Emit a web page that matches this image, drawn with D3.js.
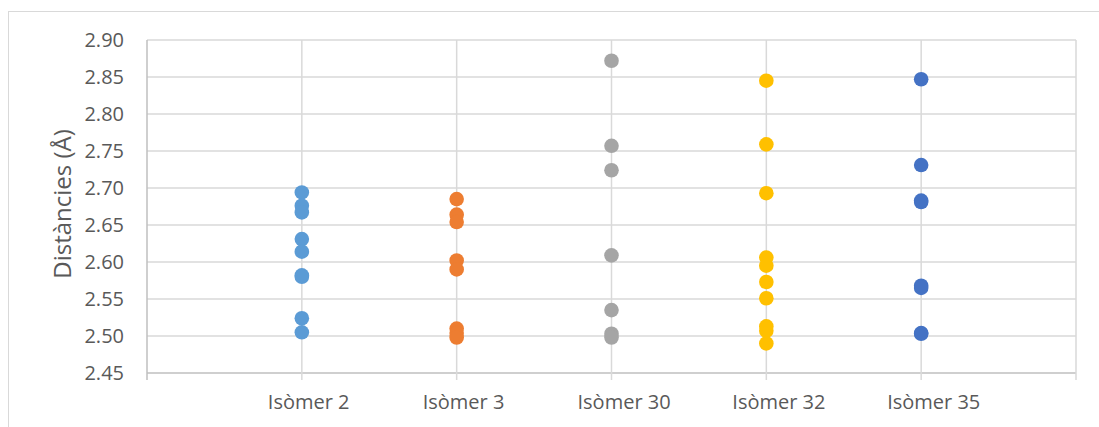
<!DOCTYPE html>
<html><head><meta charset="utf-8">
<script src="https://cdn.jsdelivr.net/npm/d3@7"></script>
<style>body{margin:0;background:#fff}svg{display:block}</style>
</head><body><svg id="c" width="1099" height="427"></svg>
<script>
const categories = ["Isòmer 2","Isòmer 3","Isòmer 30","Isòmer 32","Isòmer 35"];
const colors = ["#5B9BD5","#ED7D31","#A5A5A5","#FFC000","#4472C4"];
const isomer2 = [2.694,2.676,2.667,2.631,2.614,2.582,2.580,2.524,2.505];
const isomer3 = [2.685,2.664,2.654,2.602,2.590,2.510,2.504,2.498];
const isomer30 = [2.872,2.757,2.724,2.609,2.535,2.503,2.498];
const isomer32 = [2.845,2.759,2.693,2.606,2.595,2.573,2.551,2.513,2.507,2.490];
const isomer35 = [2.847,2.731,2.683,2.681,2.568,2.565,2.504,2.503];
const series = [isomer2,isomer3,isomer30,isomer32,isomer35];
const yTicks = [2.45,2.50,2.55,2.60,2.65,2.70,2.75,2.80,2.85,2.90];

const svg = d3.select("#c");
const L=147,R=1076,T=40,B=373;
const x = d3.scaleLinear().domain([0,6]).range([L,R]);
const y = d3.scaleLinear().domain([2.45,2.90]).range([B,T]);
const FONT = "'Open Sans',sans-serif";

svg.append("rect").attr("x",8.5).attr("y",11.5).attr("width",1100).attr("height",430)
  .attr("fill","#fff").attr("stroke","#D9D9D9").attr("stroke-width",1);

// horizontal gridlines
svg.append("g").selectAll("line").data(yTicks).join("line")
  .attr("x1",L).attr("x2",R).attr("y1",d=>y(d)).attr("y2",d=>y(d))
  .attr("stroke",d=>d===2.45?"#BFBFBF":"#D9D9D9").attr("stroke-width",1.5);
// vertical gridlines
svg.append("g").selectAll("line").data(d3.range(0,7)).join("line")
  .attr("x1",d=>x(d)).attr("x2",d=>x(d)).attr("y1",T).attr("y2",B+7)
  .attr("stroke",d=>d===0?"#BFBFBF":"#D9D9D9").attr("stroke-width",1.5);

// y tick labels
const yAxis = d3.axisLeft(y).tickValues(yTicks).tickFormat(d3.format(".2f")).tickSize(0).tickPadding(23);
const ga = svg.append("g").attr("transform",`translate(${L},0)`).call(yAxis);
ga.select(".domain").remove();
ga.selectAll("text").attr("font-family",FONT).attr("font-size",20).attr("fill","#595959");

// x labels
svg.append("g").selectAll("text").data(categories).join("text")
  .attr("x",(d,i)=>x(i+1)-34).attr("y",409)
  .attr("font-family",FONT).attr("font-size",20).attr("fill","#595959")
  .text(d=>d);

// y title
svg.append("text").attr("transform",`translate(71,204) rotate(-90)`)
  .attr("text-anchor","middle").attr("font-family",FONT)
  .attr("font-size",24).attr("fill","#595959").text("Distàncies (Å)");

// points
series.forEach((vals,i)=>{
  svg.append("g").selectAll("circle").data(vals).join("circle")
    .attr("cx",x(i+1)).attr("cy",d=>y(d)).attr("r",7.3).attr("fill",colors[i]);
});
</script></body></html>
